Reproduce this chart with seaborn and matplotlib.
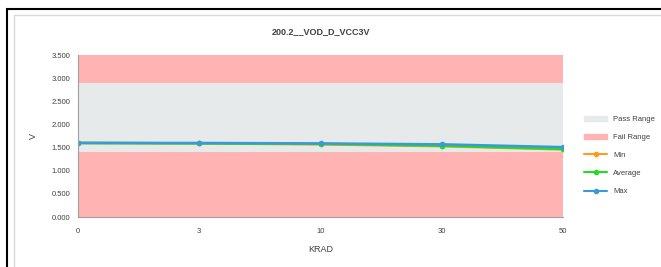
import pandas as pd
import matplotlib.pyplot as plt
import seaborn as sns
from matplotlib.patches import Patch, Rectangle

krad = ["0", "3", "10", "30", "50"]
min_v = [1.60, 1.59, 1.57, 1.53, 1.46]
avg_v = [1.60, 1.59, 1.58, 1.54, 1.47]
max_v = [1.60, 1.60, 1.59, 1.57, 1.51]
pass_low, pass_high = 1.4, 2.9
fail_low, fail_high = 0.0, 3.5
yticks = [0.0, 0.5, 1.0, 1.5, 2.0, 2.5, 3.0, 3.5]

df = pd.DataFrame({"KRAD": krad * 3,
                   "V": min_v + avg_v + max_v,
                   "Series": ["Min"] * 5 + ["Average"] * 5 + ["Max"] * 5})

sns.set_style("white")
plt.rcParams["font.family"] = ["Liberation Sans", "DejaVu Sans"]

fig = plt.figure(figsize=(6.61, 2.67), dpi=100)
# outer frames
fig.patches.append(Rectangle((7 / 661, -0.1), 1.2, 1 - 9 / 267 + 0.1, transform=fig.transFigure,
                             fill=False, edgecolor="black", linewidth=1.5))
fig.patches.append(Rectangle((14 / 661, -0.1), 1.2, 1 - 15 / 267 + 0.1, transform=fig.transFigure,
                             fill=False, edgecolor="#d9d9d9", linewidth=1.0))

ax = fig.add_axes([78 / 661, 1 - 217 / 267, (563 - 78) / 661, (217 - 55) / 267])
xs = list(range(len(krad)))
ax.fill_between(xs, fail_low, fail_high, color="#ffb3b3", linewidth=0, label="Fail Range")
ax.fill_between(xs, pass_low, pass_high, color="#e6eaea", linewidth=0, label="Pass Range")

palette = {"Min": "#ff9a1a", "Average": "#22dd22", "Max": "#3a9ad6"}
sns.lineplot(data=df, x="KRAD", y="V", hue="Series", palette=palette, marker="o",
             markersize=4, markeredgewidth=0, linewidth=1.8, ax=ax, legend=False)

ax.set_xlim(0, 4)
ax.set_ylim(0, 3.5)
ax.set_yticks(yticks)
ax.set_yticklabels([f"{v:.3f}" for v in yticks])
ax.set_xticks(xs)
ax.set_xticklabels(krad)
ax.tick_params(labelsize=5.5, colors="#404040", length=2, width=0.6)
ax.tick_params(axis="x", pad=6)
for s in ["top", "right"]:
    ax.spines[s].set_visible(False)
for s in ["left", "bottom"]:
    ax.spines[s].set_color("#a0a0a0")
    ax.spines[s].set_linewidth(0.8)

ax.set_xlabel("KRAD", fontsize=6.5, color="#404040", labelpad=7)
ax.set_ylabel("V", fontsize=6.5, color="#404040", labelpad=10)
fig.text(0.5 + (78 + 563 - 661) / 2 / 661, 1 - 32 / 267, "200.2__VOD_D_VCC3V",
         ha="center", va="center", fontsize=6.5, fontweight="bold", color="#404040")

handles = [Patch(color="#e6eaea", label="Pass Range"),
           Patch(color="#ffb3b3", label="Fail Range")]
for name in ["Min", "Average", "Max"]:
    handles.append(plt.Line2D([], [], color=palette[name], marker="o", markersize=3,
                              linewidth=1.5, label=name))
ax.legend(handles=handles, loc="center left", bbox_to_anchor=(1.03, 0.38), frameon=False,
          fontsize=5.5, labelspacing=1.4, handlelength=3, labelcolor="#404040")

plt.savefig("out.png", dpi=100)
